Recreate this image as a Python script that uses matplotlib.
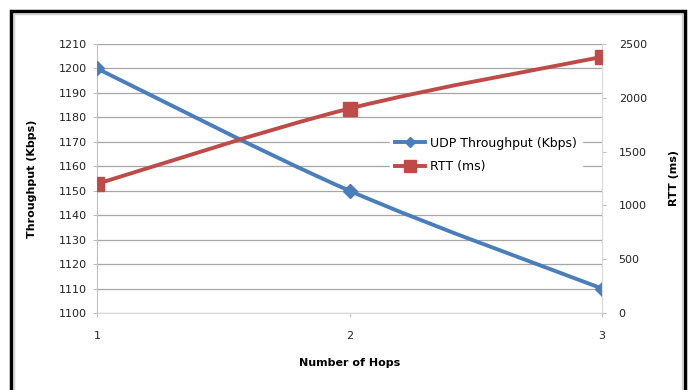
import matplotlib
matplotlib.use("Agg")
import matplotlib.pyplot as plt
from matplotlib.path import Path
from matplotlib.patches import PathPatch, Rectangle
from matplotlib.lines import Line2D
import numpy as np

hops = [1, 2, 3]
udp_throughput = [1200, 1150, 1110]
rtt_ms = [1200, 1900, 2380]
left_ticks = list(range(1100, 1211, 10))
right_ticks = list(range(0, 2501, 500))

BLUE = "#4a7ebb"
RED = "#be4b48"
GRID = "#a6a6a6"
AXC = "#bfbfbf"

plt.rcParams['font.family'] = ['DejaVu Sans']

fig = plt.figure(figsize=(6.91, 3.90), dpi=100)
ax = fig.add_axes([97/691, 1-313/390, (602-97)/691, (313-44)/390])
ax2 = ax.twinx()


def smooth_path(xs, ys):
    pts = np.column_stack([xs, ys]).astype(float)
    n = len(pts)
    verts = [pts[0]]
    codes = [Path.MOVETO]
    for i in range(n - 1):
        p0 = pts[i - 1] if i > 0 else pts[i]
        p1 = pts[i]
        p2 = pts[i + 1]
        p3 = pts[i + 2] if i + 2 < n else pts[i + 1]
        c1 = p1 + (p2 - p0) / 6.0
        c2 = p2 - (p3 - p1) / 6.0
        verts += [c1, c2, p2]
        codes += [Path.CURVE4] * 3
    return Path(verts, codes)


ax.add_patch(PathPatch(smooth_path(hops, udp_throughput), fill=False,
                       edgecolor=BLUE, lw=2.8, capstyle='round', zorder=3))
ax.plot(hops, udp_throughput, ls='none', marker='D', ms=7.5, color=BLUE, zorder=4)

ax2.add_patch(PathPatch(smooth_path(hops, rtt_ms), fill=False,
                        edgecolor=RED, lw=2.8, capstyle='round', zorder=3))
ax2.plot(hops, rtt_ms, ls='none', marker='s', ms=10, color=RED, zorder=4)

ax.set_xlim(1, 3)
ax.set_ylim(1100, 1210)
ax2.set_ylim(0, 2500)
ax.set_xticks(hops)
ax.set_xticklabels([str(h) for h in hops])
ax.set_yticks(left_ticks)
ax2.set_yticks(right_ticks)

ax.grid(axis='y', color=GRID, lw=0.9)
ax.set_axisbelow(True)
for a in (ax, ax2):
    for s in a.spines.values():
        s.set_visible(False)
    a.tick_params(labelsize=8, colors='#222222', length=3, width=0.8, color=AXC)
ax.spines['left'].set_visible(True)
ax.spines['left'].set_color(AXC)
ax.spines['bottom'].set_visible(True)
ax.spines['bottom'].set_color('#d9d9d9')
ax2.spines['right'].set_visible(True)
ax2.spines['right'].set_color('#d9d9d9')
ax.tick_params(axis='y', pad=4)
ax.tick_params(axis='x', pad=10)
ax2.tick_params(axis='y', pad=9)

ax.set_ylabel("Throughput (Kbps)", fontsize=8, fontweight='bold', labelpad=16)
ax2.set_ylabel("RTT (ms)", fontsize=8, fontweight='bold', labelpad=16)
ax.set_xlabel("Number of Hops", fontsize=8, fontweight='bold', labelpad=12)

handles = [
    Line2D([], [], color=BLUE, lw=2.8, marker='D', ms=5),
    Line2D([], [], color=RED, lw=2.8, marker='s', ms=8),
]
leg = ax2.legend(handles, ["UDP Throughput (Kbps)", "RTT (ms)"],
                 loc='center left', bbox_to_anchor=(384/691, 1-155/390),
                 bbox_transform=fig.transFigure, frameon=True, fontsize=9,
                 handlelength=2.4, handletextpad=0.4, borderpad=0.4,
                 labelspacing=0.85, fancybox=False)
leg.get_frame().set_edgecolor('white')
leg.get_frame().set_facecolor('white')
leg.get_frame().set_alpha(1)

fig.patches.append(Rectangle((11/691, -0.2), (685-11)/691, 1.2 - 11/390 + 0.0,
                             transform=fig.transFigure, fill=False,
                             edgecolor='black', lw=2.5, clip_on=False))
fig.patches.append(Rectangle((14/691, -0.2), (682-14)/691, 1.2 - 14/390,
                             transform=fig.transFigure, fill=False,
                             edgecolor='#d0d0d0', lw=1.0, clip_on=False))

fig.savefig("out.png", dpi=100)
